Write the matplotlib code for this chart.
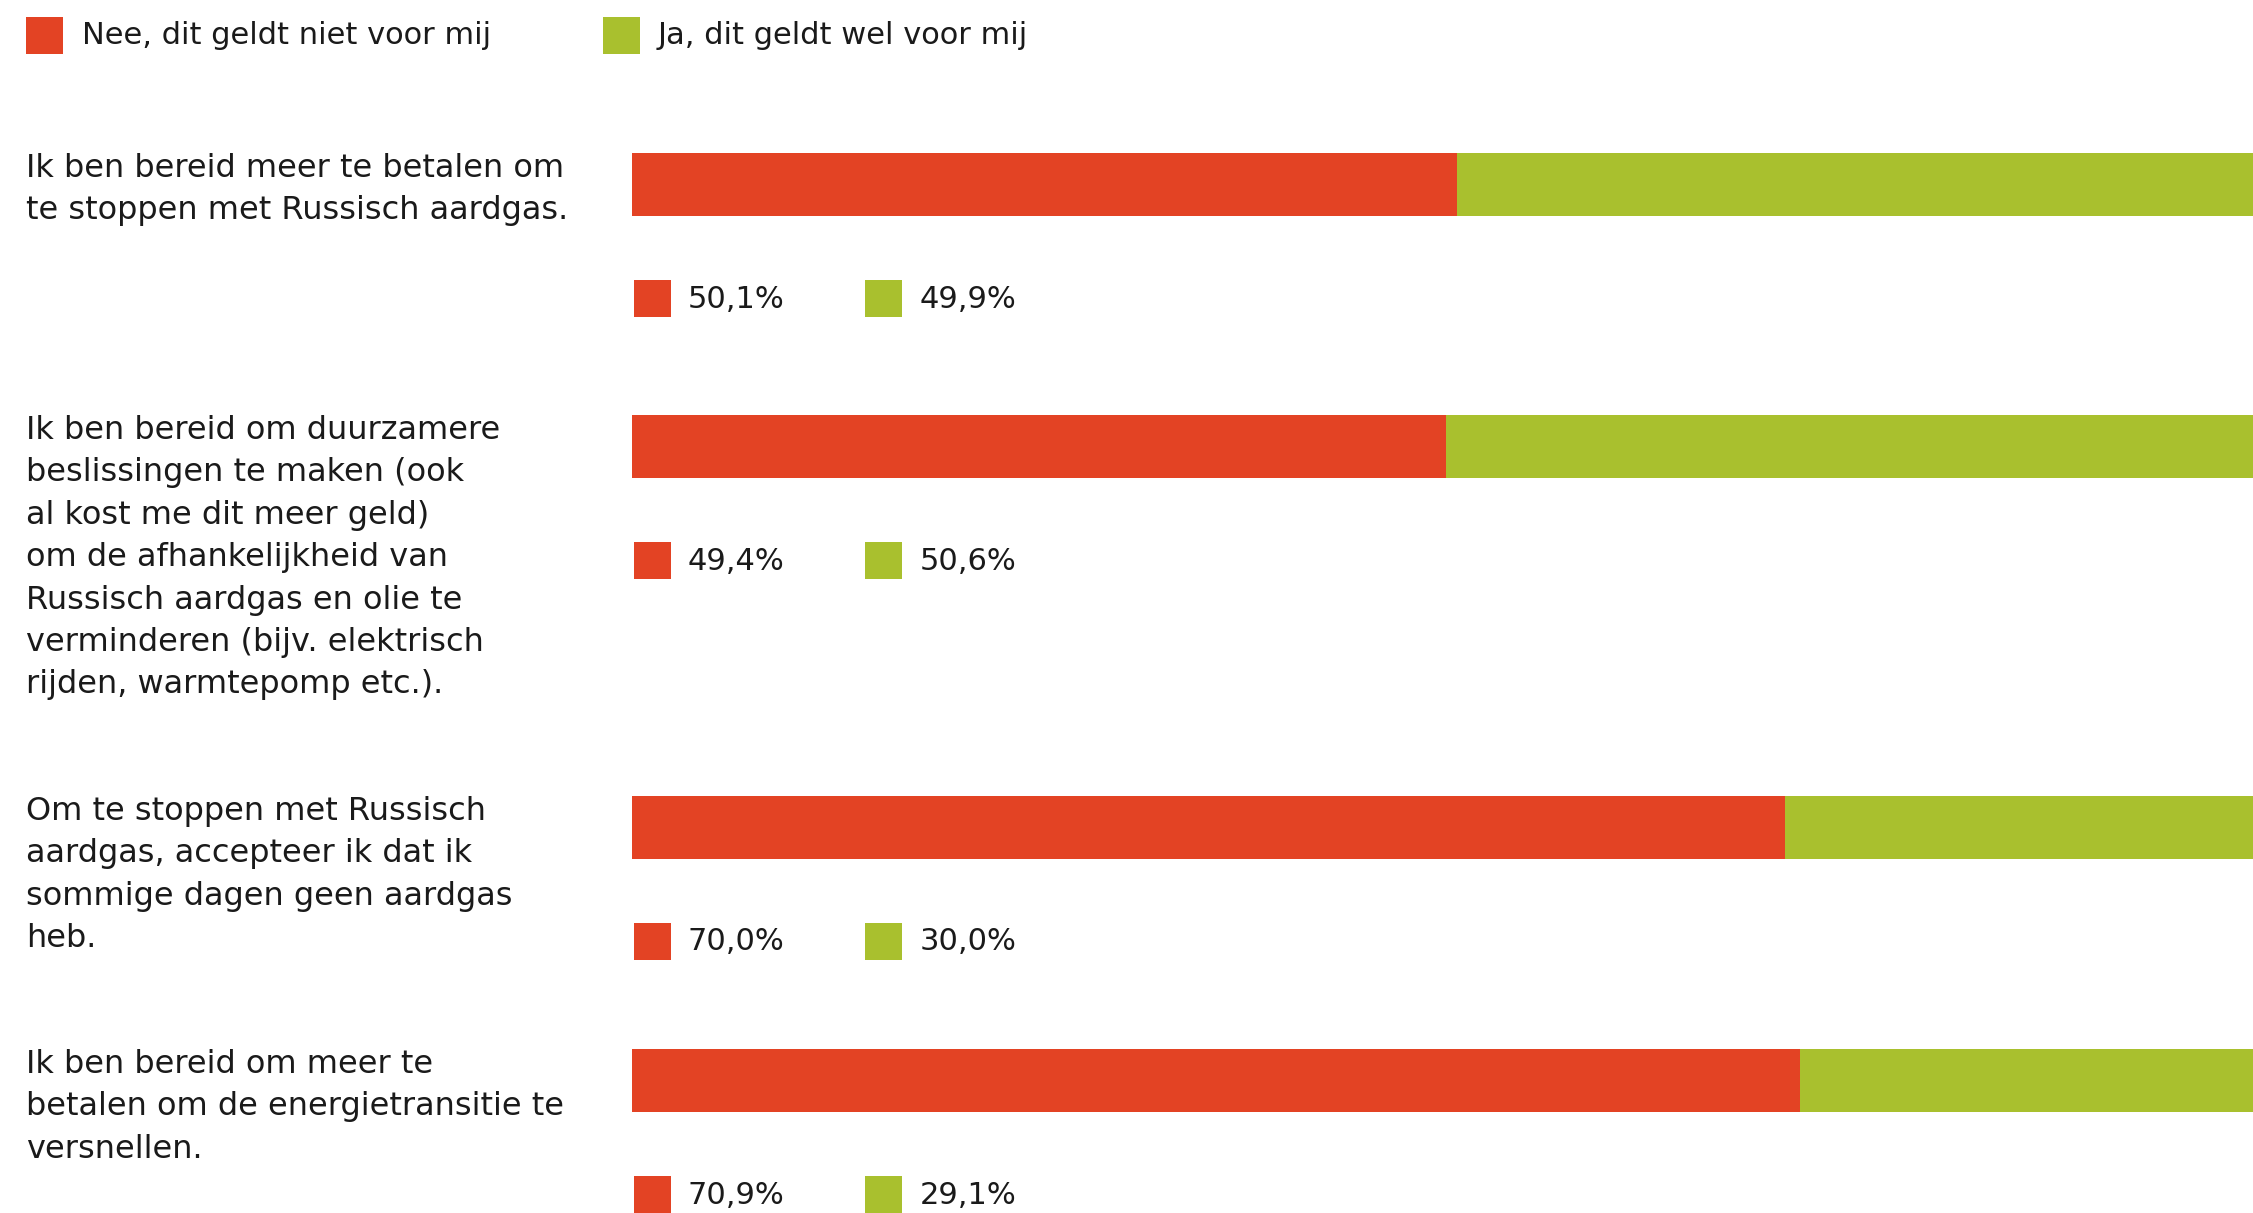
import matplotlib
matplotlib.use("Agg")
import matplotlib.pyplot as plt
from matplotlib.patches import Rectangle

# ---------------- data ----------------
categories = [
    "Ik ben bereid meer te betalen om\nte stoppen met Russisch aardgas.",
    "Ik ben bereid om duurzamere\nbeslissingen te maken (ook\nal kost me dit meer geld)\nom de afhankelijkheid van\nRussisch aardgas en olie te\nverminderen (bijv. elektrisch\nrijden, warmtepomp etc.).",
    "Om te stoppen met Russisch\naardgas, accepteer ik dat ik\nsommige dagen geen aardgas\nheb.",
    "Ik ben bereid om meer te\nbetalen om de energietransitie te\nversnellen.",
]
nee_values = [50.1, 49.4, 70.0, 70.9]
ja_values = [49.9, 50.6, 30.0, 29.1]
series_names = ["Nee, dit geldt niet voor mij", "Ja, dit geldt wel voor mij"]
colors = ["#E34324", "#A9C02E"]

# ---------------- layout ----------------
W, H = 2253, 1213
FONT = "DejaVu Sans"
FS = 22
FS_CAT = 23
TXT = "#1a1a1a"

fig = plt.figure(figsize=(W / 100, H / 100), dpi=100)
fig.patch.set_facecolor("white")

# bar axes: 0..100 % maps onto x pixels 632..2279 (runs past right edge as in the reference)
bar_left, bar_right = 632, 2279
ax = fig.add_axes([bar_left / W, 0, (bar_right - bar_left) / W, 1])
ax.set_xlim(0, 100)
ax.set_ylim(H, 0)
ax.axis("off")

bar_centers = [184, 446, 827, 1080]
bar_h = 63
ax.barh(bar_centers, nee_values, height=bar_h, color=colors[0], linewidth=0)
ax.barh(bar_centers, ja_values, left=nee_values, height=bar_h, color=colors[1], linewidth=0)

# overlay axes in pixel coordinates for text and legend keys
ov = fig.add_axes([0, 0, 1, 1])
ov.set_xlim(0, W)
ov.set_ylim(H, 0)
ov.axis("off")

def key(x, yc, color, size=37):
    ov.add_patch(Rectangle((x, yc - size / 2), size, size, color=color, linewidth=0))

# top legend
key(26, 35, colors[0])
ov.text(82, 36, series_names[0], fontsize=FS, family=FONT, color=TXT, va="center", ha="left")
key(603, 35, colors[1])
ov.text(658, 36, series_names[1], fontsize=FS, family=FONT, color=TXT, va="center", ha="left")

line_gap = 42.4
for cat, yc, nv, jv in zip(categories, bar_centers, nee_values, ja_values):
    first = yc - bar_h / 2 + 16
    for i, line in enumerate(cat.split("\n")):
        ov.text(26, first + i * line_gap, line, fontsize=FS_CAT, family=FONT, color=TXT,
                va="center", ha="left")
    ly = yc + 114
    key(634, ly, colors[0])
    ov.text(688, ly + 1, f"{nv:.1f}%".replace(".", ","), fontsize=FS, family=FONT,
            color=TXT, va="center", ha="left")
    key(865, ly, colors[1])
    ov.text(920, ly + 1, f"{jv:.1f}%".replace(".", ","), fontsize=FS, family=FONT,
            color=TXT, va="center", ha="left")

fig.savefig("out.png", dpi=100, facecolor="white")
